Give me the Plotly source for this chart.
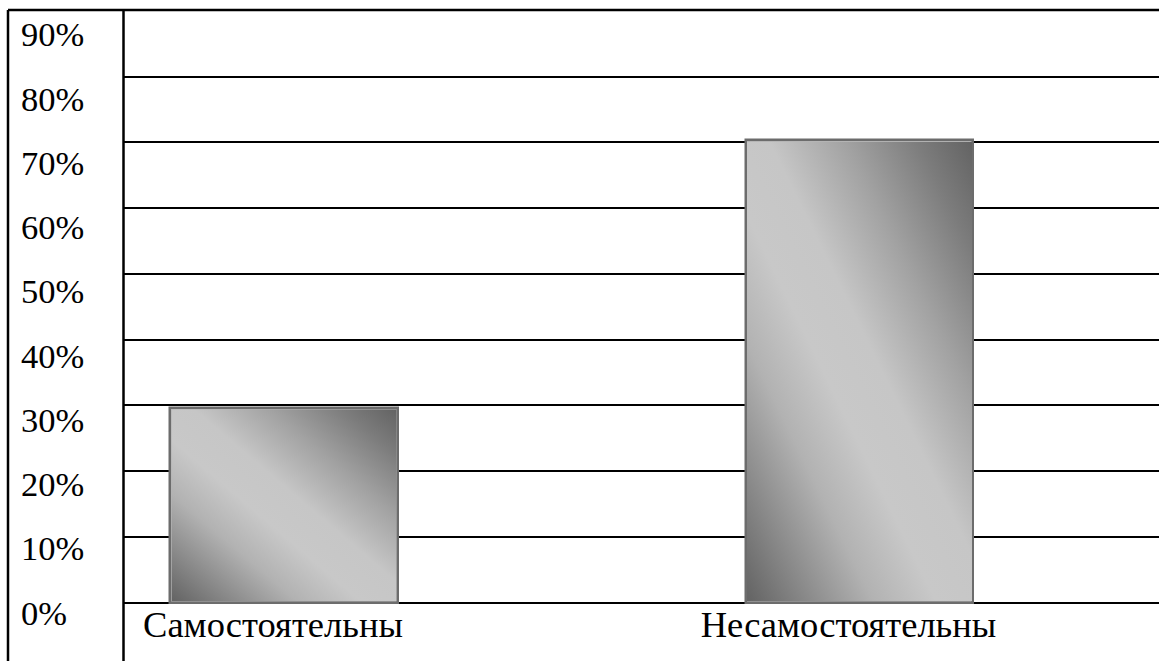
import base64
import plotly.graph_objects as go

# ---- data ----
categories = ["Самостоятельны", "Несамостоятельны"]
values = [29.6, 70.3]          # percent
tick_values = [0, 10, 20, 30, 40, 50, 60, 70, 80, 90]
tick_labels = ["0%", "10%", "20%", "30%", "40%", "50%", "60%", "70%", "80%", "90%"]

# ---- style ----
W, H = 1159, 661
FAMILY = "Liberation Serif, Times New Roman, serif"
FONT = dict(family=FAMILY, size=34.5, color="black")
XFONT = dict(family=FAMILY, size=36.5, color="black")
BAR_W = 0.396
x_pos = list(range(len(categories)))

grad_svg = (
    '<svg xmlns="http://www.w3.org/2000/svg" viewBox="0 0 100 100" preserveAspectRatio="none">'
    '<defs><linearGradient id="g" x1="0" y1="1" x2="1" y2="0">'
    '<stop offset="0" stop-color="#636363"/>'
    '<stop offset="0.12" stop-color="#858585"/>'
    '<stop offset="0.28" stop-color="#b2b2b2"/>'
    '<stop offset="0.42" stop-color="#c8c8c8"/>'
    '<stop offset="0.55" stop-color="#c6c6c6"/>'
    '<stop offset="0.72" stop-color="#a2a2a2"/>'
    '<stop offset="0.88" stop-color="#7c7c7c"/>'
    '<stop offset="1" stop-color="#636363"/>'
    '</linearGradient></defs>'
    '<rect x="0" y="0" width="100" height="100" fill="url(#g)"/></svg>'
)
grad_uri = "data:image/svg+xml;base64," + base64.b64encode(grad_svg.encode()).decode()

fig = go.Figure()
fig.add_trace(go.Bar(
    x=x_pos, y=values, width=BAR_W,
    marker=dict(color="#b5b5b5", line=dict(color="#6c6c6c", width=2.5)),
    hoverinfo="skip", showlegend=False,
))
# helper trace to attach the label axis
fig.add_trace(go.Scatter(x=[], y=[], yaxis="y2", showlegend=False, hoverinfo="skip"))

# gradient fill images placed in data coordinates
ix, iy = 0.0024, 0.22
images = []
for xp, v in zip(x_pos, values):
    images.append(dict(
        source=grad_uri, xref="x", yref="y",
        x=xp - BAR_W / 2 + ix, y=v - iy,
        sizex=BAR_W - 2 * ix, sizey=v - 2 * iy,
        xanchor="left", yanchor="top", sizing="stretch", layer="above",
    ))

px_per_unit = 6.575
y_zero_px = 602.5
plot_top, plot_bot = 10, H
y_range = [-(plot_bot - y_zero_px) / px_per_unit, (y_zero_px - plot_top) / px_per_unit]

lab_ppu = 6.424
lab_zero_px = 612.5
y2_range = [-(plot_bot - lab_zero_px) / lab_ppu, (lab_zero_px - plot_top) / lab_ppu]

x_left_px, x_c0_px, x_step_px = 124, 284, 575.5
x_range = [(x_left_px - x_c0_px) / x_step_px, (W - x_c0_px) / x_step_px]

line = dict(color="black", width=2.5)
shapes = [
    dict(type="line", xref="paper", yref="paper", x0=8 / W, x1=8 / W, y0=-0.05, y1=1.0, line=line),
    dict(type="line", xref="paper", yref="paper", x0=123.5 / W, x1=123.5 / W, y0=-0.05, y1=1.0, line=line),
    dict(type="line", xref="paper", yref="paper", x0=8 / W, x1=1.0, y0=1.0, y1=1.0, line=line),
]

fig.update_layout(
    width=W, height=H,
    margin=dict(l=0, r=0, t=plot_top, b=0, pad=0),
    paper_bgcolor="white", plot_bgcolor="white",
    font=FONT,
    bargap=0,
    images=images,
    shapes=shapes,
    xaxis=dict(
        domain=[x_left_px / W, 1], range=x_range,
        anchor="free", position=(plot_bot - y_zero_px + 3) / (plot_bot - plot_top),
        tickmode="array", tickvals=x_pos, ticktext=categories,
        ticks="", showgrid=False, zeroline=False, showline=False,
        ticklabelshift=-11, ticklabelstandoff=0,
        tickfont=XFONT, fixedrange=True,
    ),
    yaxis=dict(
        domain=[0, 1], range=y_range,
        tickmode="array", tickvals=tick_values,
        showticklabels=False, ticks="",
        showgrid=True, gridcolor="black", gridwidth=2,
        zeroline=False, showline=False, fixedrange=True,
    ),
    yaxis2=dict(
        overlaying="y", anchor="free", position=20 / W, side="right",
        range=y2_range, tickmode="array", tickvals=tick_values, ticktext=tick_labels,
        ticks="", showgrid=False, zeroline=False, showline=False,
        tickfont=FONT, fixedrange=True,
    ),
)

fig.write_html("out.html", config={"displayModeBar": False})
